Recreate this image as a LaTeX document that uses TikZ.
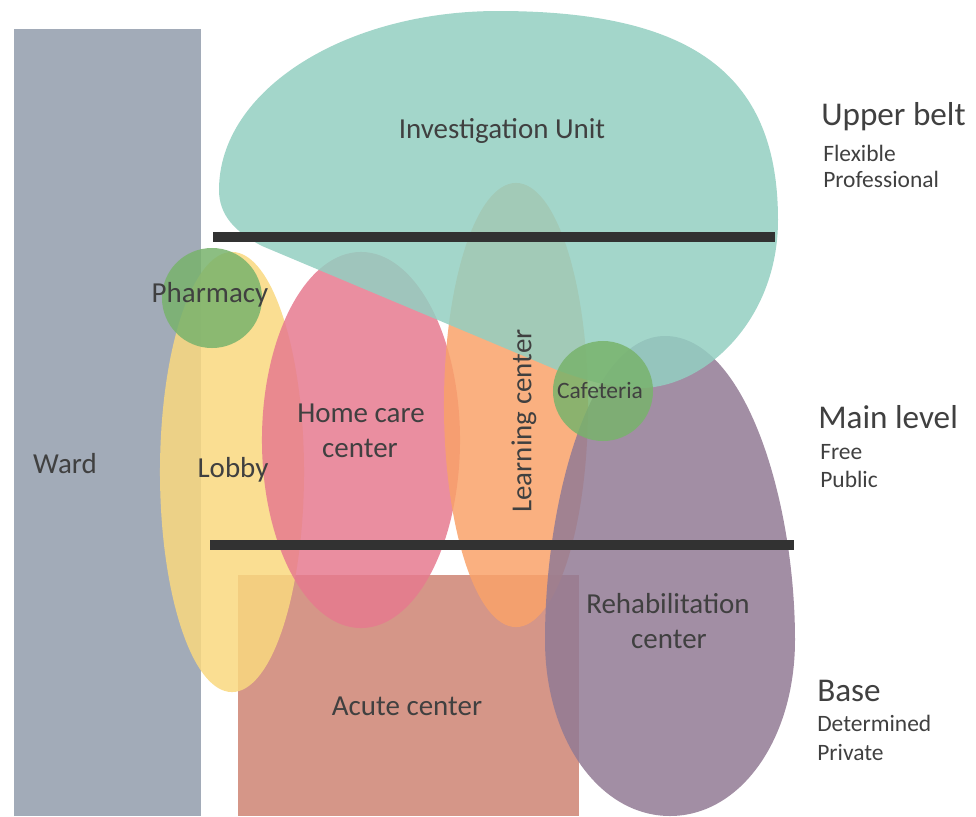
\documentclass[tikz,border=0pt]{standalone}
\usepackage{fontspec}
\setmainfont{Carlito}
\usetikzlibrary{shapes.geometric,positioning}
\definecolor{wardc}{RGB}{162,171,184}
\definecolor{investc}{RGB}{147,207,193}
\definecolor{lobbyc}{RGB}{249,216,127}
\definecolor{homec}{RGB}{230,122,143}
\definecolor{learnc}{RGB}{249,162,106}
\definecolor{rehabc}{RGB}{146,122,148}
\definecolor{greenc}{RGB}{120,179,108}
\definecolor{acutec}{RGB}{213,150,136}
\definecolor{textc}{RGB}{64,64,64}
\definecolor{barc}{RGB}{50,50,50}

\begin{document}
\begin{tikzpicture}[
            x=0.025cm, y=-0.025cm,
            zone/.style={fill opacity=0.85, draw=none, inner sep=0pt, outer sep=0pt},
            blob/.style={zone, ellipse},
            block/.style={rectangle, draw=none, inner sep=0pt, outer sep=0pt},
            bar/.style={line width=0.25cm, barc},
            lbl/.style={font=\fontsize{20.6}{25}\selectfont, text=textc, inner sep=0pt, anchor=base},
            small/.style={lbl, font=\fontsize{16.7}{20}\selectfont},
            lvl/.style={font=\fontsize{23.6}{28}\selectfont, text=textc, inner sep=0pt, anchor=base west},
            lvlsub/.style={font=\fontsize{16.7}{20}\selectfont, text=textc, inner sep=0pt, anchor=base west}
        ]
        \useasboundingbox (0,0) rectangle (976,817);

        % wings and departments
        \node[block, fill=wardc, minimum width=4.675cm, minimum height=19.675cm] (ward) at (107.5,422.5) {};
        \node[block, fill=acutec, minimum width=8.525cm, minimum height=6.025cm] (acute) at (408.5,695.5) {};
        \node[blob, fill=lobbyc, minimum width=3.6cm, minimum height=11cm] (lobby) at (232,472) {};
        \node[blob, fill=homec, minimum width=4.95cm, minimum height=9.4cm] (homecare) at (361,440) {};
        \node[blob, fill=learnc, minimum width=3.6cm, minimum height=11.1cm] (learning) at (516,405) {};

        % rehabilitation (egg) and investigation unit (drop)
        \fill[zone, fill=rehabc] (665,336) .. controls (745,336) and (795,500) .. (795,640)
            .. controls (795,740) and (740,816) .. (670,816)
            .. controls (600,816) and (545,740) .. (545,640)
            .. controls (545,500) and (590,336) .. (665,336) -- cycle;
        \fill[zone, fill=investc] (219,190) .. controls (219,90) and (345,11) .. (498,11)
            .. controls (700,11) and (778,80) .. (778,220)
            .. controls (778,320) and (705,388) .. (640,388)
            .. controls (610,388) and (585,380) .. (557,370)
            -- (262,246) .. controls (235,232) and (219,215) .. (219,190) -- cycle;

        \node[blob, fill=greenc, minimum size=2.5cm] (pharmacy) at (212,298) {};
        \node[blob, fill=greenc, minimum size=2.5cm] (cafeteria) at (603,391) {};

        % level borders
        \coordinate (ub-w) at (213,237);
        \coordinate (ub-e) at (775,237);
        \coordinate (lb-w) at (210,545);
        \coordinate (lb-e) at (794,545);
        \draw[bar] (ub-w) -- (ub-e);
        \draw[bar] (lb-w) -- (lb-e);

        % labels
        \node[lbl] (ward-t) at (65,473) {Ward};
        \node[lbl] (invest-t) at (502,138) {Investigation Unit};
        \node[lbl] (pharmacy-t) at (210,302) {Pharmacy};
        \node[lbl] (lobby-t) at (233,477) {Lobby};
        \node[lbl] (home-t) at (361,422) {Home care};
        \node[lbl] (home-t2) at (360,457) {center};
        \node[lbl, rotate=90, anchor=center] (learning-t) at (524,421) {Learning center};
        \node[small] (cafeteria-t) at (600,398) {Cafeteria};
        \node[lbl] (rehab-t) at (668,613) {Rehabilitation};
        \node[lbl] (rehab-t2) at (669,648) {center};
        \node[lbl] (acute-t) at (407,715) {Acute center};

        % levels
        \node[lvl] (upper) at (821,125) {Upper belt};
        \node[lvlsub] (upper-a) at (823,161) {Flexible};
        \node[lvlsub] (upper-b) at (823,187) {Professional};
        \node[lvl] (main) at (818,428) {Main level};
        \node[lvlsub] (main-a) at (820,459) {Free};
        \node[lvlsub] (main-b) at (820,487) {Public};
        \node[lvl] (base) at (817,701) {Base};
        \node[lvlsub] (base-a) at (817,731) {Determined};
        \node[lvlsub] (base-b) at (817,760) {Private};

        \end{tikzpicture}
\end{document}
